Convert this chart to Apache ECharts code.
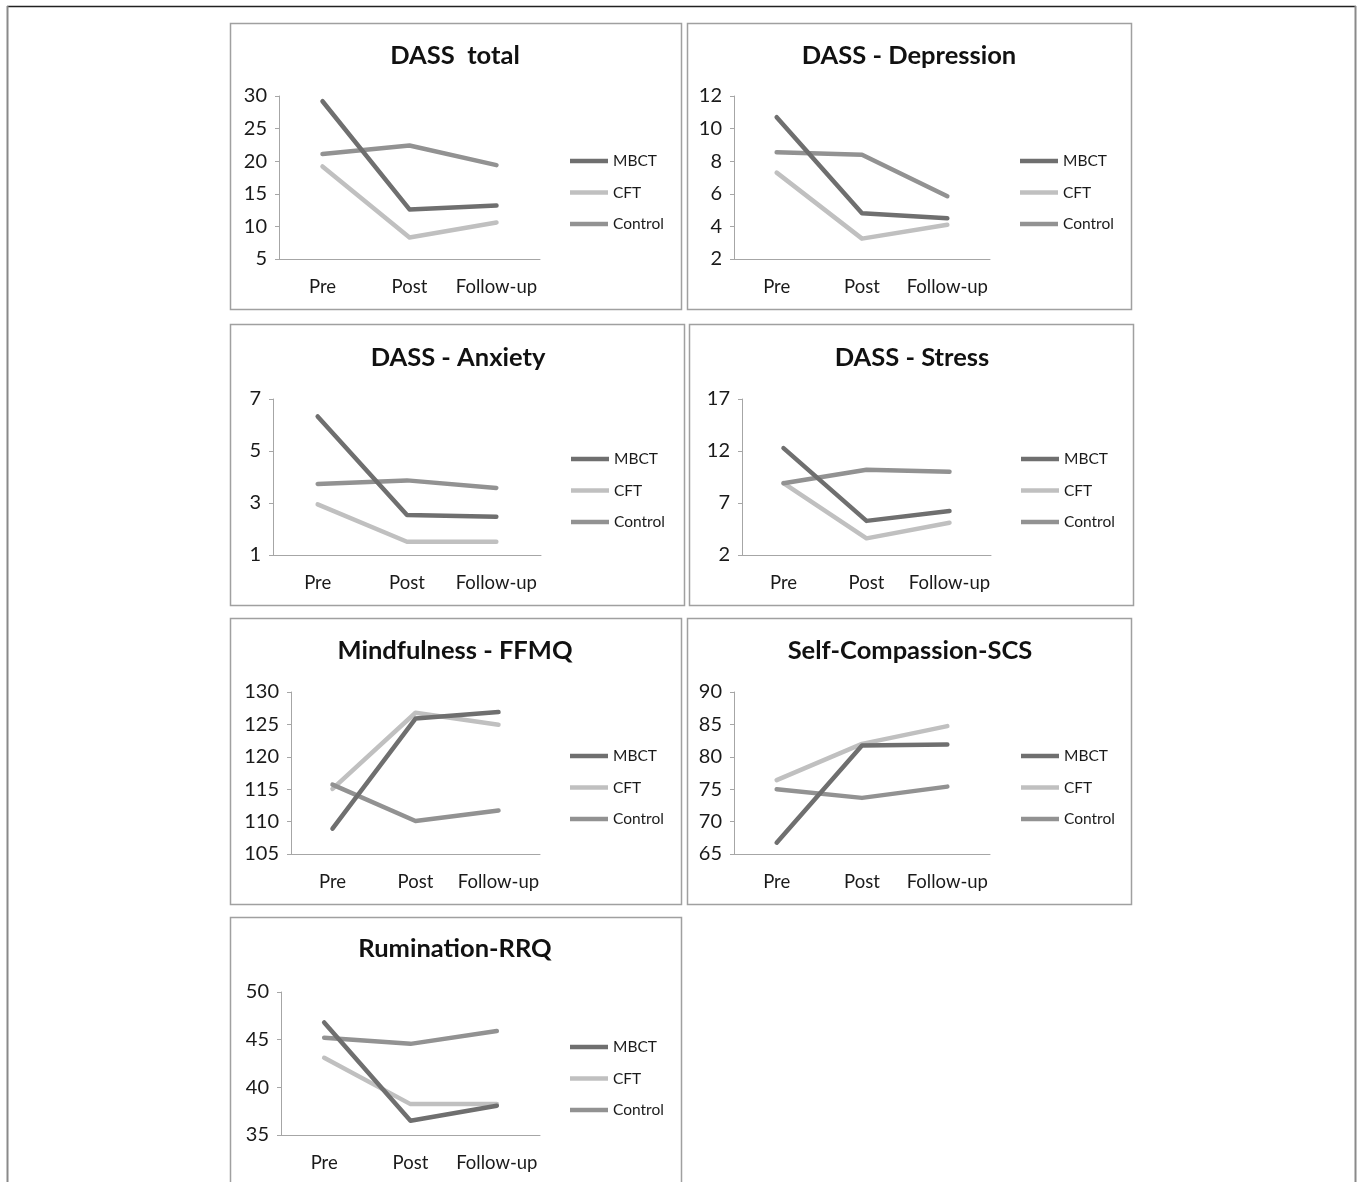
<!DOCTYPE html>
<html>
<head>
<meta charset="utf-8">
<script src="https://cdn.jsdelivr.net/npm/echarts@6/dist/echarts.min.js"></script>
<style>
html,body{margin:0;padding:0;background:#fff;}
#c{width:1360px;height:1182px;}
</style>
</head>
<body>
<div id="c"></div>
<script>
// ---- data ----
const categories = ['Pre', 'Post', 'Follow-up'];
const groups = ['MBCT', 'CFT', 'Control'];
const titles = ['DASS  total', 'DASS - Depression', 'DASS - Anxiety', 'DASS - Stress',
                'Mindfulness - FFMQ', 'Self-Compassion-SCS', 'Rumination-RRQ'];

const dassTotal_MBCT = [29.2, 12.6, 13.2];
const dassTotal_CFT = [19.2, 8.3, 10.6];
const dassTotal_Control = [21.1, 22.4, 19.4];

const depression_MBCT = [10.7, 4.8, 4.5];
const depression_CFT = [7.3, 3.25, 4.1];
const depression_Control = [8.55, 8.4, 5.85];

const anxiety_MBCT = [6.33, 2.54, 2.47];
const anxiety_CFT = [2.95, 1.51, 1.51];
const anxiety_Control = [3.73, 3.87, 3.58];

const stress_MBCT = [12.28, 5.28, 6.24];
const stress_CFT = [8.9, 3.6, 5.1];
const stress_Control = [8.9, 10.2, 10.0];

const ffmq_MBCT = [108.9, 125.9, 126.9];
const ffmq_CFT = [115.05, 126.8, 124.95];
const ffmq_Control = [115.7, 110.1, 111.7];

const scs_MBCT = [66.75, 81.75, 81.9];
const scs_CFT = [76.4, 82.0, 84.74];
const scs_Control = [75.0, 73.66, 75.4];

const rrq_MBCT = [46.8, 36.5, 38.07];
const rrq_CFT = [43.1, 38.24, 38.24];
const rrq_Control = [45.2, 44.56, 45.9];

// y tick labels per panel
const ticks_dassTotal = [5, 10, 15, 20, 25, 30];
const ticks_depression = [2, 4, 6, 8, 10, 12];
const ticks_anxiety = [1, 3, 5, 7];
const ticks_stress = [2, 7, 12, 17];
const ticks_ffmq = [105, 110, 115, 120, 125, 130];
const ticks_scs = [65, 70, 75, 80, 85, 90];
const ticks_rrq = [35, 40, 45, 50];

const panelData = [
  [dassTotal_MBCT, dassTotal_CFT, dassTotal_Control],
  [depression_MBCT, depression_CFT, depression_Control],
  [anxiety_MBCT, anxiety_CFT, anxiety_Control],
  [stress_MBCT, stress_CFT, stress_Control],
  [ffmq_MBCT, ffmq_CFT, ffmq_Control],
  [scs_MBCT, scs_CFT, scs_Control],
  [rrq_MBCT, rrq_CFT, rrq_Control]
];
const panelTicks = [ticks_dassTotal, ticks_depression, ticks_anxiety, ticks_stress, ticks_ffmq, ticks_scs, ticks_rrq];

// ---- layout ----
const FONT = 'Lato, "Open Sans", sans-serif';
const colors = ['#6f6f6f', '#c0c0c0', '#929292'];
const layout = [
  // grid box, panel box, title center, legend pos
  {g: [279, 96, 261, 163], p: [230.5, 23.5, 451, 286], t: [455, 56], l: [570, 161]},
  {g: [734, 96, 256, 163], p: [687.5, 23.5, 444, 286], t: [909, 56], l: [1020, 161]},
  {g: [273, 399, 268, 156], p: [230.5, 324.5, 454, 281], t: [458, 358], l: [571, 459]},
  {g: [742, 399, 249, 156], p: [689.5, 324.5, 444, 281], t: [912, 358], l: [1021, 459]},
  {g: [291, 692, 249, 162], p: [230.5, 618.5, 451, 286], t: [455, 651], l: [570, 756]},
  {g: [734, 692, 256, 162], p: [687.5, 618.5, 444, 286], t: [910, 651], l: [1021, 756]},
  {g: [281, 992, 259, 143], p: [230.5, 917.5, 451, 300], t: [455, 949], l: [570, 1047]}
];

const grid = [], xAxis = [], yAxis = [], series = [], title = [], legend = [], graphic = [];

layout.forEach((L, i) => {
  grid.push({left: L.g[0], top: L.g[1], width: L.g[2], height: L.g[3], containLabel: false});
  xAxis.push({
    type: 'category', gridIndex: i, data: categories, boundaryGap: true,
    axisLine: {lineStyle: {color: '#a6a6a6', width: 1}},
    axisTick: {show: false},
    axisLabel: {fontFamily: FONT, fontSize: 18.5, color: '#1a1a1a', margin: 19, interval: 0, hideOverlap: false},
    splitLine: {show: false}
  });
  const tk = panelTicks[i];
  const step = tk[1] - tk[0];
  yAxis.push({
    type: 'value', gridIndex: i, min: tk[0], max: tk[tk.length - 1], interval: step,
    axisLine: {show: true, lineStyle: {color: '#a6a6a6', width: 1}},
    axisTick: {show: true, length: 4, lineStyle: {color: '#a6a6a6'}, customValues: tk},
    axisLabel: {fontFamily: FONT, fontSize: 20, color: '#1a1a1a', margin: 12, customValues: tk},
    splitLine: {show: false}
  });
  groups.forEach((gname, k) => {
    series.push({
      name: gname, type: 'line', xAxisIndex: i, yAxisIndex: i,
      data: panelData[i][k], showSymbol: false, symbol: 'none',
      lineStyle: {color: colors[k], width: 4.5, cap: 'round', join: 'round'},
      itemStyle: {color: colors[k]},
      z: k === 1 ? 2 : (k === 0 ? 4 : 3),
      animation: false
    });
  });
  title.push({
    text: titles[i], left: L.t[0], top: L.t[1] - 15, textAlign: 'center', padding: 0,
    textStyle: {fontFamily: FONT, fontSize: 25.5, fontWeight: 'bold', color: '#111', lineHeight: 30}
  });
  legend.push({
    data: groups, orient: 'vertical', left: L.l[0], top: L.l[1] - 8, padding: 0,
    icon: 'rect', itemWidth: 38, itemHeight: 4.5, itemGap: 15.5,
    textStyle: {fontFamily: FONT, fontSize: 15.5, color: '#1a1a1a', lineHeight: 16, height: 16},
    selectedMode: false
  });
  graphic.push({
    type: 'rect', shape: {x: L.p[0], y: L.p[1], width: L.p[2], height: L.p[3]},
    style: {fill: 'none', stroke: '#a0a0a0', lineWidth: 1.5}, silent: true, z: -1
  });
});

// outer frame
graphic.push({type: 'line', shape: {x1: 7, y1: 6.5, x2: 1356, y2: 6.5}, style: {stroke: '#222', lineWidth: 1.5}, silent: true});
graphic.push({type: 'line', shape: {x1: 7.5, y1: 6, x2: 7.5, y2: 1182}, style: {stroke: '#8a8a8a', lineWidth: 2}, silent: true});
graphic.push({type: 'line', shape: {x1: 1355.5, y1: 6, x2: 1355.5, y2: 1182}, style: {stroke: '#8a8a8a', lineWidth: 2}, silent: true});

const chart = echarts.init(document.getElementById('c'), null, {renderer: 'canvas'});
chart.setOption({
  animation: false,
  backgroundColor: '#fff',
  grid, xAxis, yAxis, series, title, legend, graphic
});
</script>
</body>
</html>
